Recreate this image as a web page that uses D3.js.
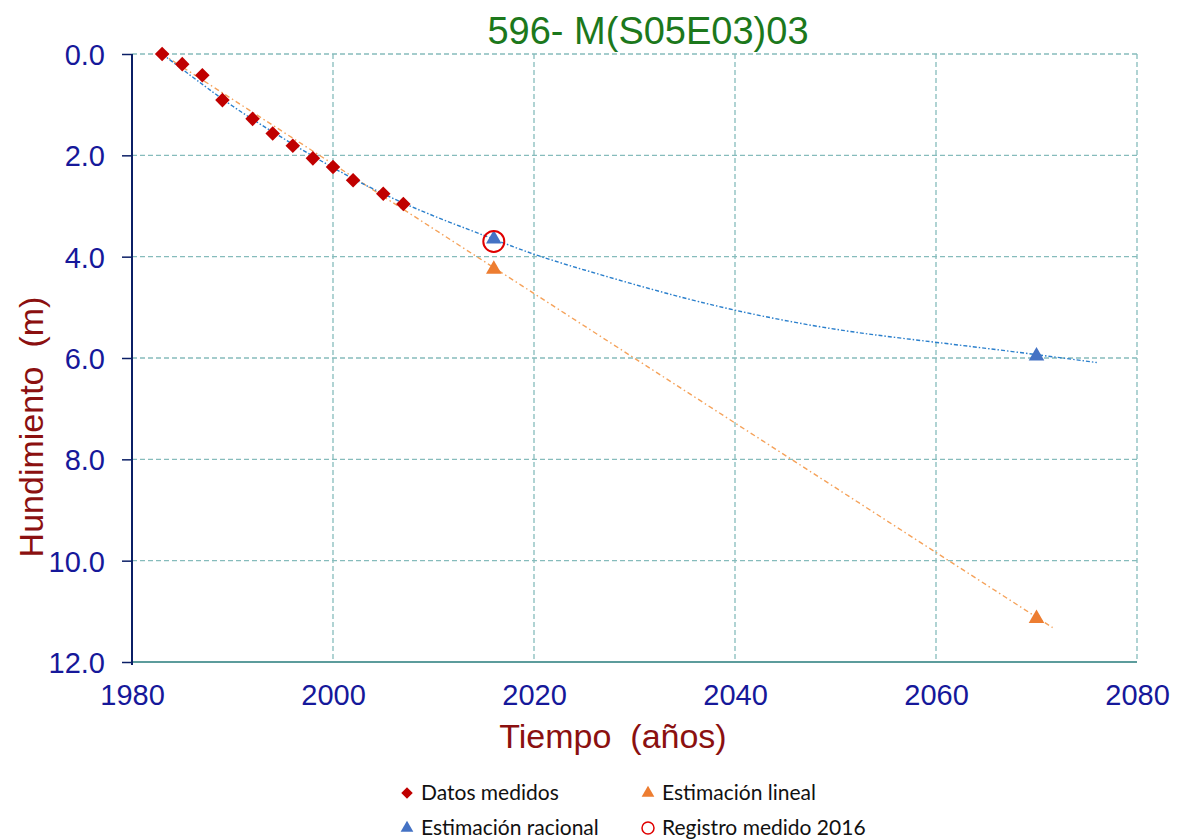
<!DOCTYPE html>
<html>
<head>
<meta charset="utf-8">
<script src="https://d3js.org/d3.v7.min.js"></script>
<style>
  body { margin: 0; background: #fff; }
  svg { font-family: "Liberation Sans", Arial, sans-serif; }
  text { white-space: pre; }
</style>
</head>
<body>
<svg width="1181" height="840"></svg>
<script>
// measured data (year, subsidence m)
var medidosYears = [1983, 1985, 1987, 1989, 1992, 1994, 1996, 1998, 2000, 2002, 2005, 2007];
var medidosVals  = [0.0, 0.20, 0.42, 0.91, 1.28, 1.57, 1.81, 2.06, 2.23, 2.49, 2.76, 2.96];

var linealYears = [2016, 2070];
var linealVals  = [4.25, 11.14];

var racionalYears = [2016, 2070];
var racionalVals  = [3.65, 5.96];

var registroYear = [2016];
var registroVal  = [3.70];

// trend lines
var trendLinYears = [1983, 2071.6];
var trendLinVals  = [0.0, 11.32];

var trendRacYears = [1983, 1985, 1990, 1995, 2000, 2007, 2016, 2020, 2027, 2033, 2040, 2048, 2054, 2060, 2068, 2076];
var trendRacVals  = [0.0, 0.30, 1.05, 1.66, 2.26, 2.98, 3.65, 3.97, 4.38, 4.72, 5.07, 5.38, 5.55, 5.69, 5.88, 6.09];

var xTicks = [1980, 2000, 2020, 2040, 2060, 2080];
var yTicks = [0, 2, 4, 6, 8, 10, 12];

var zip = function(a, b) { return a.map(function(v, i) { return [v, b[i]]; }); };

var svg = d3.select('svg');
var m = {left: 132, top: 54, right: 44, bottom: 178};
var W = 1181 - m.left - m.right, H = 840 - m.top - m.bottom;

var x = d3.scaleLinear().domain([1980, 2080]).range([0, W]);
var y = d3.scaleLinear().domain([0, 12]).range([0, H]);

var g = svg.append('g').attr('transform', 'translate(' + m.left + ',' + m.top + ')');

// grid
var gridColor = '#86bcbc';
g.selectAll('.hg').data(yTicks.slice(0, -1)).enter().append('line')
  .attr('x1', 0).attr('x2', W)
  .attr('y1', function(d) { return y(d); }).attr('y2', function(d) { return y(d); })
  .attr('stroke', gridColor).attr('stroke-width', 1.3).attr('stroke-dasharray', '5,3');
g.selectAll('.vg').data(xTicks.slice(1)).enter().append('line')
  .attr('y1', 0).attr('y2', H)
  .attr('x1', function(d) { return x(d); }).attr('x2', function(d) { return x(d); })
  .attr('stroke', gridColor).attr('stroke-width', 1.3).attr('stroke-dasharray', '5,3');

// bottom line
g.append('line').attr('x1', 0).attr('x2', W).attr('y1', H).attr('y2', H)
  .attr('stroke', '#5c9c9c').attr('stroke-width', 2);

// y axis
var ya = g.append('g').call(d3.axisLeft(y).tickValues(yTicks).tickFormat(d3.format('.1f')).tickSize(10).tickPadding(17));
ya.select('.domain').attr('stroke', '#0b1f66').attr('stroke-width', 2).attr('d', 'M0,0V' + (H + 3));
ya.selectAll('.tick line').attr('stroke', '#0b1f66').attr('stroke-width', 1.5);
ya.selectAll('.tick text').attr('fill', '#16189a').style('font-size', '29px').attr('dy', '0.36em');

// x axis
var xa = g.append('g').attr('transform', 'translate(0,' + H + ')')
  .call(d3.axisBottom(x).tickValues(xTicks).tickFormat(d3.format('d')).tickSize(0).tickPadding(22));
xa.select('.domain').remove();
xa.selectAll('.tick text').attr('fill', '#16189a').style('font-size', '29px');

// trend lines
var line = d3.line().x(function(d) { return x(d[0]); }).y(function(d) { return y(d[1]); });
g.append('path').datum(zip(trendLinYears, trendLinVals)).attr('d', line)
  .attr('fill', 'none').attr('stroke', '#f5a25a').attr('stroke-width', 1.4).attr('stroke-dasharray', '5,3,1.5,3');
g.append('path').datum(zip(trendRacYears, trendRacVals)).attr('d', line.curve(d3.curveBasis))
  .attr('fill', 'none').attr('stroke', '#2a7fcc').attr('stroke-width', 1.4).attr('stroke-dasharray', '4,2,1.5,2');

// markers
var diamond = d3.symbol().type(d3.symbolDiamond2).size(135);
var tri = d3.symbol().type(d3.symbolTriangle).size(105);

g.selectAll('.med').data(zip(medidosYears, medidosVals)).enter().append('path')
  .attr('d', diamond)
  .attr('transform', function(d) { return 'translate(' + x(d[0]) + ',' + y(d[1]) + ')'; })
  .attr('fill', '#c00000');

g.selectAll('.lin').data(zip(linealYears, linealVals)).enter().append('path')
  .attr('d', tri)
  .attr('transform', function(d) { return 'translate(' + x(d[0]) + ',' + y(d[1]) + ')'; })
  .attr('fill', '#ed7d31');

g.selectAll('.rac').data(zip(racionalYears, racionalVals)).enter().append('path')
  .attr('d', tri)
  .attr('transform', function(d) { return 'translate(' + x(d[0]) + ',' + y(d[1]) + ')'; })
  .attr('fill', '#4472c4');

g.selectAll('.reg').data(zip(registroYear, registroVal)).enter().append('circle')
  .attr('cx', function(d) { return x(d[0]); }).attr('cy', function(d) { return y(d[1]); })
  .attr('r', 10.5).attr('fill', 'none').attr('stroke', '#e00000').attr('stroke-width', 2);

// titles
svg.append('text').attr('x', 648).attr('y', 44).attr('text-anchor', 'middle')
  .attr('fill', '#1c781c').style('font-size', '38px').text('596- M(S05E03)03');
svg.append('text').attr('x', 613).attr('y', 748).attr('text-anchor', 'middle')
  .attr('fill', '#8b1010').style('font-size', '34px').text('Tiempo  (años)');
svg.append('text').attr('transform', 'translate(43,427) rotate(-90)').attr('text-anchor', 'middle')
  .attr('fill', '#8b1010').style('font-size', '34px').text('Hundimiento  (m)');

// legend
var legend = [
  {label: 'Datos medidos', x: 407, y: 793, kind: 'diamond', color: '#c00000'},
  {label: 'Estimación lineal', x: 648, y: 793, kind: 'tri', color: '#ed7d31'},
  {label: 'Estimación racional', x: 407, y: 828, kind: 'tri', color: '#4472c4'},
  {label: 'Registro medido 2016', x: 648, y: 828, kind: 'circle', color: '#e00000'}
];
var lg = svg.selectAll('.lg').data(legend).enter().append('g')
  .attr('transform', function(d) { return 'translate(' + d.x + ',' + d.y + ')'; });
lg.each(function(d) {
  var s = d3.select(this);
  if (d.kind == 'circle') {
    s.append('circle').attr('r', 6).attr('fill', 'none').attr('stroke', d.color).attr('stroke-width', 1.5);
  } else {
    s.append('path').attr('d', d.kind == 'diamond' ? d3.symbol().type(d3.symbolDiamond2).size(85)() : d3.symbol().type(d3.symbolTriangle).size(70)())
      .attr('fill', d.color);
  }
  s.append('text').attr('x', 14).attr('dy', '0.35em').attr('fill', '#111')
    .style('font-family', 'Lato, "Open Sans", sans-serif').style('font-size', '21px').text(d.label);
});
</script>
</body>
</html>
